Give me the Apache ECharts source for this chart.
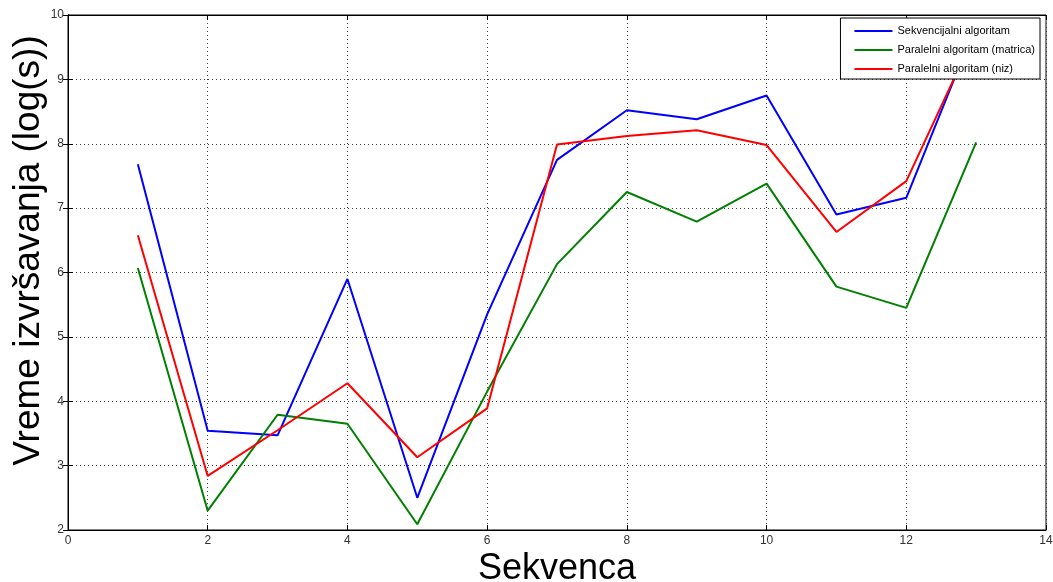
<!DOCTYPE html>
<html>
<head>
<meta charset="utf-8">
<script src="https://cdn.jsdelivr.net/npm/echarts@6/dist/echarts.min.js"></script>
<style>
html,body{margin:0;padding:0;background:#fff;}
#c{width:1053px;height:582px;}
</style>
</head>
<body>
<div id="c"></div>
<script>
const sekvence = [1, 2, 3, 4, 5, 6, 7, 8, 9, 10, 11, 12, 13];
const sekvencijalni = [7.68, 3.54, 3.47, 5.90, 2.50, 5.35, 7.75, 8.52, 8.38, 8.75, 6.90, 7.16, 9.85];
const paralelniMatrica = [6.07, 2.30, 3.79, 3.65, 2.09, 4.15, 6.13, 7.25, 6.79, 7.38, 5.78, 5.45, 8.02];
const paralelniNiz = [6.58, 2.84, 3.55, 4.28, 3.13, 3.89, 7.99, 8.12, 8.21, 7.98, 6.63, 7.42, 9.75];
const seriesNames = ['Sekvencijalni algoritam', 'Paralelni algoritam (matrica)', 'Paralelni algoritam (niz)'];
const xTitle = 'Sekvenca';
const yTitle = 'Vreme izvršavanja (log(s))';

const pairs = arr => sekvence.map((x, i) => [x, arr[i]]);
const colors = ['#0000ff', '#008000', '#ff0000'];
const font = 'Liberation Sans, Arial, sans-serif';

const chart = echarts.init(document.getElementById('c'));
const gridLine = { show: true, lineStyle: { color: '#444', type: [1, 3], width: 1 } };
chart.setOption({
  animation: false,
  backgroundColor: '#fff',
  grid: { left: 68, right: 7, top: 15, bottom: 52, containLabel: false, outerBoundsMode: 'none', show: true, borderColor: '#000', borderWidth: 1, backgroundColor: '#fff' },
  legend: {
    orient: 'vertical', right: 13, top: 18,
    backgroundColor: '#fff', borderColor: '#000', borderWidth: 1,
    padding: [6, 5, 3, 14], itemGap: 5,
    itemWidth: 38, itemHeight: 2, icon: 'rect',
    textStyle: { fontFamily: font, fontSize: 11, color: '#000', lineHeight: 14 },
    data: seriesNames
  },
  xAxis: [{
    type: 'value', min: 0, max: 14, interval: 2,
    name: xTitle, nameLocation: 'middle', nameGap: 21, nameMoveOverlap: false,
    nameTextStyle: { fontFamily: font, fontSize: 36, color: '#000' },
    axisLine: { show: true, lineStyle: { color: '#000' } },
    axisTick: { show: true, inside: true, length: 5, lineStyle: { color: '#000' } },
    axisLabel: { fontFamily: font, fontSize: 12, color: '#333', margin: 5 },
    splitLine: gridLine
  }, {
    type: 'value', min: 0, max: 14, interval: 2, position: 'top',
    axisLine: { show: true, lineStyle: { color: '#000' } },
    axisTick: { show: true, inside: true, length: 5, lineStyle: { color: '#000' } },
    axisLabel: { show: false }, splitLine: { show: false }
  }],
  yAxis: [{
    type: 'value', min: 2, max: 10, interval: 1,
    name: yTitle, nameLocation: 'middle', nameGap: 21, nameMoveOverlap: false,
    nameTextStyle: { fontFamily: font, fontSize: 37, color: '#000', padding: [0, 0, 0, 44] },
    axisLine: { show: true, lineStyle: { color: '#000' } },
    axisTick: { show: true, inside: true, length: 5, lineStyle: { color: '#000' } },
    axisLabel: { fontFamily: font, fontSize: 12, color: '#333', margin: 4 },
    splitLine: gridLine
  }, {
    type: 'value', min: 2, max: 10, interval: 1, position: 'right',
    axisLine: { show: true, lineStyle: { color: '#000' } },
    axisTick: { show: true, inside: true, length: 5, lineStyle: { color: '#000' } },
    axisLabel: { show: false }, splitLine: { show: false }
  }],
  series: [sekvencijalni, paralelniMatrica, paralelniNiz].map((arr, i) => ({
    name: seriesNames[i], type: 'line', data: pairs(arr),
    xAxisIndex: 0, yAxisIndex: 0,
    symbol: 'none', clip: true,
    lineStyle: { color: colors[i], width: 2 },
    itemStyle: { color: colors[i] }
  }))
});
</script>
</body>
</html>
